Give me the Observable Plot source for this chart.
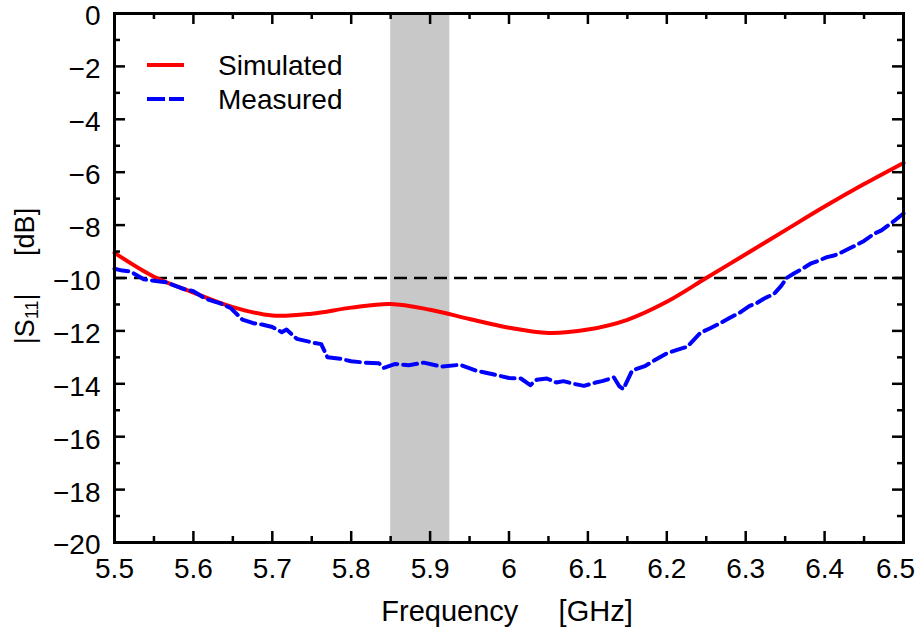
<!DOCTYPE html>
<html><head><meta charset="utf-8">
<script src="https://cdn.jsdelivr.net/npm/d3@7"></script>
<script src="https://cdn.jsdelivr.net/npm/@observablehq/plot@0.6"></script>
<style>
body{margin:0;background:#fff;}
#chart{width:919px;height:631px;}
svg text{font-family:"Liberation Sans",Arial,sans-serif;}
</style></head><body><div id="chart"></div>
<script>
// ---- data ----
const simFreq = [5.50,5.55,5.60,5.65,5.70,5.75,5.80,5.85,5.90,5.95,6.00,6.05,6.10,6.15,6.20,6.25,6.30,6.35,6.40,6.45,6.50];
const simDb   = [-9.05,-9.95,-10.55,-11.1,-11.42,-11.35,-11.12,-10.98,-11.2,-11.55,-11.88,-12.08,-11.95,-11.58,-10.9,-10.0,-9.1,-8.2,-7.3,-6.45,-5.65];

const measFreq = [5.500,5.510,5.520,5.537,5.550,5.565,5.588,5.600,5.615,5.634,5.647,5.662,5.675,5.687,5.700,5.712,5.718,5.731,5.753,5.762,5.770,5.786,5.800,5.818,5.835,5.841,5.856,5.873,5.892,5.915,5.938,5.958,5.981,6.000,6.015,6.027,6.035,6.048,6.060,6.069,6.082,6.095,6.110,6.118,6.133,6.140,6.145,6.156,6.173,6.185,6.200,6.215,6.226,6.243,6.255,6.268,6.280,6.293,6.305,6.314,6.325,6.336,6.345,6.352,6.361,6.372,6.382,6.392,6.403,6.412,6.420,6.435,6.450,6.463,6.472,6.481,6.490,6.500];
const measDb   = [-9.65,-9.72,-9.75,-10.05,-10.1,-10.16,-10.42,-10.5,-10.78,-10.96,-11.13,-11.57,-11.7,-11.76,-11.85,-12.05,-11.95,-12.3,-12.45,-12.5,-13.0,-13.05,-13.15,-13.2,-13.22,-13.4,-13.25,-13.3,-13.2,-13.35,-13.28,-13.5,-13.65,-13.78,-13.8,-14.05,-13.85,-13.8,-13.95,-13.9,-14.0,-14.08,-13.95,-13.9,-13.76,-14.1,-14.2,-13.5,-13.32,-13.1,-12.85,-12.7,-12.6,-12.06,-11.9,-11.7,-11.5,-11.3,-11.05,-10.95,-10.75,-10.6,-10.3,-10.0,-9.83,-9.65,-9.46,-9.35,-9.21,-9.15,-9.05,-8.83,-8.6,-8.32,-8.2,-8.0,-7.8,-7.56];

const xTicks = [5.5,5.6,5.7,5.8,5.9,6.0,6.1,6.2,6.3,6.4,6.5];
const xMinor = [5.55,5.65,5.75,5.85,5.95,6.05,6.15,6.25,6.35,6.45];
const yTicks = [0,-2,-4,-6,-8,-10,-12,-14,-16,-18,-20];
const yMinor = [-1,-3,-5,-7,-9,-11,-13,-15,-17,-19];
const bandLo = [5.85];
const bandHi = [5.925];
const threshold = [-10];
const seriesNames = ["Simulated","Measured"];
const xLabel = ["Frequency", "[GHz]"];
const yLabel = ["|S", "11", "|", "[dB]"];

// ---- layout ----
const W = 919, H = 631, mL = 114, mR = 16, mT = 13, mB = 89;
const fw = W - mL - mR, fh = H - mT - mB;
const sim = simFreq.map((f, i) => ({f, db: simDb[i]}));
const meas = measFreq.map((f, i) => ({f, db: measDb[i]}));
const band = bandLo.map((lo, i) => ({lo, hi: bandHi[i]}));
const fmtX = d => `${+d.toFixed(2)}`;
const fmtY = d => d < 0 ? "\u2212" + Math.abs(d) : `${d}`;
const tw = 2.5;
const FS = 28;

const chart = Plot.plot({
  width: W, height: H,
  marginLeft: mL, marginRight: mR, marginTop: mT, marginBottom: mB,
  style: {fontFamily: '"Liberation Sans", Arial, sans-serif', fontSize: FS + "px", color: "#000", background: "#fff", overflow: "visible"},
  x: {domain: [5.5, 6.5]},
  y: {domain: [-20, 0]},
  marks: [
    Plot.rect(band, {x1: "lo", x2: "hi", fill: "#c8c8c8"}),
    Plot.ruleY(threshold, {stroke: "#000", strokeWidth: 2.5, strokeDasharray: "13,7"}),
    Plot.line(sim, {x: "f", y: "db", stroke: "#ff0000", strokeWidth: 4, curve: "catmull-rom"}),
    Plot.line(meas, {x: "f", y: "db", stroke: "#0000ff", strokeWidth: 4, strokeDasharray: "14,6"}),
    Plot.frame({stroke: "#000", strokeWidth: 3}),
    Plot.tickX(xTicks, {x: d => d, insetTop: fh - 11, strokeWidth: tw}),
    Plot.tickX(xTicks, {x: d => d, insetBottom: fh - 11, strokeWidth: tw}),
    Plot.tickX(xMinor, {x: d => d, insetTop: fh - 6, strokeWidth: tw}),
    Plot.tickX(xMinor, {x: d => d, insetBottom: fh - 6, strokeWidth: tw}),
    Plot.tickY(yTicks, {y: d => d, insetRight: fw - 11, strokeWidth: tw}),
    Plot.tickY(yTicks, {y: d => d, insetLeft: fw - 11, strokeWidth: tw}),
    Plot.tickY(yMinor, {y: d => d, insetRight: fw - 6, strokeWidth: tw}),
    Plot.tickY(yMinor, {y: d => d, insetLeft: fw - 6, strokeWidth: tw}),
    Plot.axisX(xTicks.slice(0, -1), {tickSize: 0, tickPadding: 16, tickFormat: fmtX, label: null, fontSize: FS}),
    Plot.axisX(xTicks.slice(-1), {tickSize: 0, tickPadding: 16, tickFormat: fmtX, label: null, fontSize: FS, dx: -8}),
    Plot.axisY(yTicks, {tickSize: 0, tickPadding: 14, tickFormat: fmtY, label: null, dy: 3, fontSize: FS})
  ]
});
document.getElementById("chart").appendChild(chart);

const svg = d3.select(chart);
// axis titles
svg.append("text")
  .attr("x", 507).attr("y", 621).attr("text-anchor", "middle")
  .attr("font-size", 29).attr("fill", "#000").style("white-space", "pre")
  .text(xLabel[0] + "     " + xLabel[1]);
const yt = svg.append("text")
  .attr("transform", "translate(34,276) rotate(-90)")
  .attr("text-anchor", "middle").attr("font-size", 27).attr("fill", "#000")
  .style("white-space", "pre");
yt.append("tspan").text(yLabel[0]);
yt.append("tspan").attr("font-size", 18).attr("dy", 4).text(yLabel[1]);
yt.append("tspan").attr("dy", -4).text(yLabel[2] + "     " + yLabel[3]);

// legend
const leg = svg.append("g");
const legItems = [
  {name: seriesNames[0], color: "#ff0000", dash: null, y: 65},
  {name: seriesNames[1], color: "#0000ff", dash: "18,4", y: 99}
];
legItems.forEach(it => {
  leg.append("line").attr("x1", 147).attr("x2", 184).attr("y1", it.y).attr("y2", it.y)
    .attr("stroke", it.color).attr("stroke-width", 4).attr("stroke-dasharray", it.dash);
  leg.append("text").attr("x", 218).attr("y", it.y + 10).attr("text-anchor", "start")
    .attr("font-size", 28).attr("fill", "#000").text(it.name);
});
</script></body></html>
